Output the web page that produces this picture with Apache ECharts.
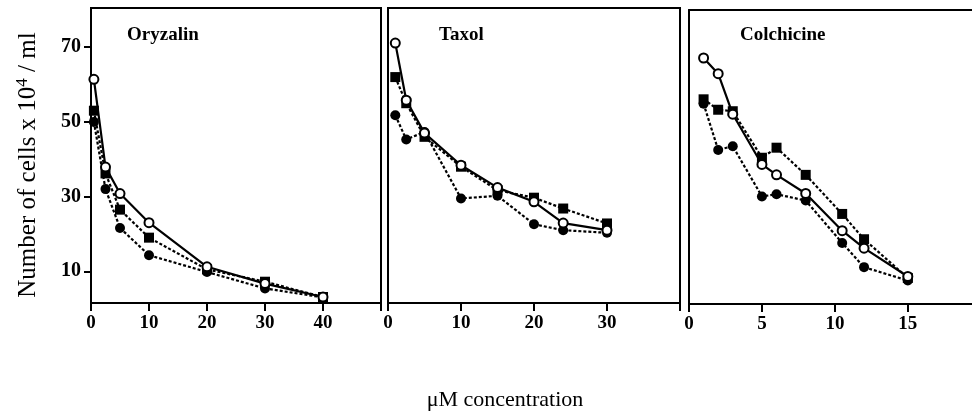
<!DOCTYPE html>
<html>
<head>
<meta charset="utf-8">
<script src="https://cdn.jsdelivr.net/npm/echarts@6/dist/echarts.min.js"></script>
<style>
html,body{margin:0;padding:0;background:#fff;}
#chart{width:972px;height:412px;}
</style>
</head>
<body>
<div id="chart"></div>
<script>
// ---- data ----
const panelTitles = ['Oryzalin', 'Taxol', 'Colchicine'];
const yTickValues = [10, 30, 50, 70];

const oryzalinX = [0.5, 2.5, 5, 10, 20, 30, 40];
const oryzalinOpen = [61.4, 37.9, 30.8, 23.0, 11.2, 6.7, 3.1];
const oryzalinSquare = [53.0, 36.2, 26.5, 19.0, 10.5, 7.2, 3.1];
const oryzalinFilled = [50.0, 32.0, 21.6, 14.3, 9.8, 5.4, 3.0];

const taxolX = [1, 2.5, 5, 10, 15, 20, 24, 30];
const taxolOpen = [71.1, 55.8, 47.0, 38.4, 32.4, 28.6, 22.9, 21.0];
const taxolSquare = [62.0, 55.0, 46.0, 38.0, 31.7, 29.7, 26.8, 22.8];
const taxolFilled = [51.8, 45.3, 47.3, 29.5, 30.2, 22.6, 21.0, 20.3];

const colchicineX = [1, 2, 3, 5, 6, 8, 10.5, 12, 15];
const colchicineOpen = [67.6, 63.4, 52.5, 39.0, 36.2, 31.2, 21.2, 16.5, 8.9];
const colchicineSquare = [56.5, 53.7, 53.3, 40.8, 43.5, 36.2, 25.7, 18.9, 8.5];
const colchicineFilled = [55.3, 42.9, 43.9, 30.4, 31.0, 29.3, 17.9, 11.4, 7.8];

const xMax = [50, 40, 19.4];
const xTicks = [[0, 10, 20, 30, 40, 50], [0, 10, 20, 30, 40], [0, 5, 10, 15]];
const xLabels = [[0, 10, 20, 30, 40], [0, 10, 20, 30], [0, 5, 10, 15]];

function pairs(xs, ys) { return xs.map((x, i) => [x, ys[i]]); }

const panels = [
  {x: oryzalinX, open: oryzalinOpen, sq: oryzalinSquare, filled: oryzalinFilled},
  {x: taxolX, open: taxolOpen, sq: taxolSquare, filled: taxolFilled},
  {x: colchicineX, open: colchicineOpen, sq: colchicineSquare, filled: colchicineFilled}
];

const FONT = '"Liberation Serif", "Times New Roman", serif';
const grids = [
  {left: 91, top: 8, width: 290, height: 295},
  {left: 388, top: 8, width: 292, height: 295},
  {left: 689, top: 10, width: 283, height: 294}
];

const chart = echarts.init(document.getElementById('chart'), null, {renderer: 'canvas'});

const lineStyleAxis = {color: '#000', width: 2};
const xAxes = [], yAxes = [], series = [], titles = [];
const titleLeft = [122, 434, 735];
grids.forEach((g, i) => {
  g.show = i < 2;
  g.borderColor = '#000';
  g.borderWidth = 2;
  g.containLabel = false;
  xAxes.push({
    type: 'value', gridIndex: i, min: 0, max: xMax[i],
    axisLine: {show: true, onZero: false, lineStyle: lineStyleAxis},
    axisTick: {show: true, inside: false, length: 8, customValues: xTicks[i], lineStyle: lineStyleAxis},
    axisLabel: {show: true, customValues: xLabels[i], margin: 11, color: '#000', fontFamily: FONT, fontSize: 19, fontWeight: 'bold'},
    splitLine: {show: false}
  });
  yAxes.push({
    type: 'value', gridIndex: i, min: 1.5, max: 80.5,
    axisLine: {show: true, onZero: false, lineStyle: lineStyleAxis},
    axisTick: {show: i === 0, length: 7, customValues: yTickValues, lineStyle: lineStyleAxis},
    axisLabel: {show: i === 0, customValues: yTickValues, margin: 10, color: '#000', fontFamily: FONT, fontSize: 20, fontWeight: 'bold'},
    splitLine: {show: false}
  });

  const p = panels[i];
  series.push({
    type: 'line', xAxisIndex: i, yAxisIndex: i, data: pairs(p.x, p.sq),
    symbol: 'rect', symbolSize: 10,
    lineStyle: {color: '#000', width: 2.2, type: [3, 2]},
    itemStyle: {color: '#000'}, z: 2
  });
  series.push({
    type: 'line', xAxisIndex: i, yAxisIndex: i, data: pairs(p.x, p.filled),
    symbol: 'circle', symbolSize: 10,
    lineStyle: {color: '#000', width: 2.2, type: [3, 2]},
    itemStyle: {color: '#000'}, z: 3
  });
  series.push({
    type: 'line', xAxisIndex: i, yAxisIndex: i, data: pairs(p.x, p.open),
    symbol: 'circle', symbolSize: 9, showAllSymbol: true,
    lineStyle: {color: '#000', width: 2.2},
    itemStyle: {color: '#fff', borderColor: '#000', borderWidth: 2}, z: 4
  });
  titles.push({
    text: panelTitles[i], left: titleLeft[i], top: 21,
    textStyle: {fontFamily: FONT, fontSize: 19, fontWeight: 'bold', color: '#000'}
  });
});
// top border line for the third (right-cropped) panel
xAxes.push({
  type: 'value', gridIndex: 2, position: 'top', min: 0, max: xMax[2],
  axisLine: {show: true, onZero: false, lineStyle: lineStyleAxis},
  axisTick: {show: false}, axisLabel: {show: false}, splitLine: {show: false}
});

chart.setOption({
  animation: false,
  backgroundColor: '#fff',
  title: titles,
  grid: grids,
  xAxis: xAxes,
  yAxis: yAxes,
  series: series,
  graphic: [
    {
      type: 'text', x: 505, y: 400,
      style: {text: 'μM concentration', font: '22px "Liberation Serif", serif', fill: '#000', align: 'center', verticalAlign: 'middle'}
    },
    {
      type: 'text', x: 28, y: 165, rotation: Math.PI / 2,
      style: {
        text: '{a|Number of cells x 10}{s|4}{a| / ml}',
        align: 'center', verticalAlign: 'middle', fill: '#000',
        rich: {
          a: {font: '25px "Liberation Serif", serif', fill: '#000'},
          s: {font: '17px "Liberation Serif", serif', fill: '#000', padding: [0, 0, 11, 0]}
        }
      }
    }
  ]
});
</script>
</body>
</html>
